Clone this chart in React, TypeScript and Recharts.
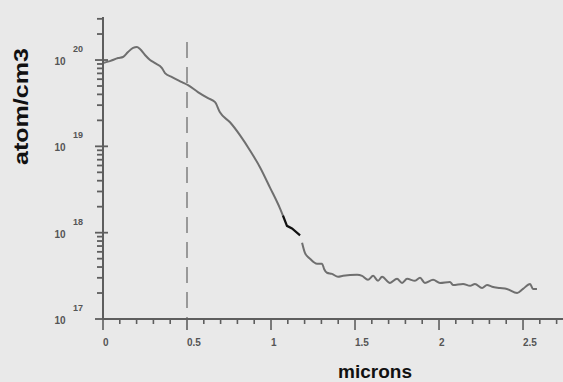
import React from "react";
import { LineChart, Line, XAxis, YAxis, ReferenceLine } from "recharts";

// depth (microns) and concentration (atom/cm3)
const depthMicrons = [0, 0.041, 0.09, 0.119, 0.149, 0.179, 0.202, 0.22, 0.25, 0.28, 0.31, 0.351, 0.369, 0.411, 0.47, 0.506, 0.565, 0.625, 0.667, 0.696, 0.756, 0.816, 0.875, 0.935, 0.994, 1.054, 1.071, 1.12, 1.185, 1.202, 1.232, 1.274, 1.304, 1.316, 1.333, 1.363, 1.399, 1.429, 1.512, 1.542, 1.577, 1.608, 1.637, 1.661, 1.708, 1.75, 1.78, 1.81, 1.857, 1.887, 1.916, 1.965, 2.006, 2.065, 2.083, 2.143, 2.185, 2.214, 2.256, 2.286, 2.316, 2.363, 2.404, 2.465, 2.5, 2.542, 2.559, 2.583];
const concentration: (number | null)[] = [9.23e19, 9.72e19, 1.054e20, 1.084e20, 1.239e20, 1.38e20, 1.416e20, 1.343e20, 1.143e20, 1.0e20, 9.2e19, 8.07e19, 7.06e19, 6.34e19, 5.55e19, 5.12e19, 4.25e19, 3.61e19, 3.25e19, 2.48e19, 1.9e19, 1.34e19, 8.97e18, 5.7e18, 3.33e18, 1.9e18, 1.58e18, null, 7.66e17, 5.85e17, 4.99e17, 4.37e17, 4.37e17, 3.8e17, 3.43e17, 3.33e17, 3.08e17, 3.16e17, 3.25e17, 3.16e17, 2.84e17, 3.16e17, 2.77e17, 3.08e17, 2.62e17, 2.92e17, 2.62e17, 2.92e17, 2.77e17, 3.0e17, 2.62e17, 2.84e17, 2.62e17, 2.69e17, 2.48e17, 2.55e17, 2.42e17, 2.55e17, 2.29e17, 2.48e17, 2.36e17, 2.29e17, 2.23e17, 2.0e17, 2.23e17, 2.55e17, 2.23e17, 2.23e17];

// dark pen mark over the gap in the curve
const markDepth = [1.071, 1.095, 1.125, 1.173];
const markConc = [1.58e18, 1.2e18, 1.12e18, 9.3e17];

const xMajorTicks = [0, 0.5, 1, 1.5, 2, 2.5];
const xTickLabels = ["0", "0.5", "1", "1.5", "2", "2.5"];
const xMinorTicks = [0.1, 0.2, 0.3, 0.4, 0.6, 0.7, 0.8, 0.9, 1.1, 1.2, 1.3, 1.4, 1.6, 1.7, 1.8, 1.9, 2.1, 2.2, 2.3, 2.4, 2.6, 2.7];
const yDecades = [1e17, 1e18, 1e19, 1e20];
const yExponents = ["17", "18", "19", "20"];
const yMinorMultipliers = [2, 3, 4, 5, 6, 7, 8, 9];
const dashedDepth = 0.5;

const yTop = 3.15e20;
const yMinorTicks = yDecades
  .flatMap((d) => yMinorMultipliers.map((m) => m * d))
  .filter((v) => v < yTop);

const mainData = depthMicrons.map((x, i) => ({ x, y: concentration[i] }));
const markData = markDepth.map((x, i) => ({ x, y: markConc[i] }));

const axisColor = "#5e5e5e";
const tickFont = "'Liberation Sans', Arial, sans-serif";

const XTick = (props: any) => {
  const { x, y, payload } = props;
  const v = payload.value;
  const mi = xMajorTicks.findIndex((t) => Math.abs(t - v) < 1e-9);
  const major = mi >= 0;
  return (
    <g>
      <line x1={x} x2={x} y1={y} y2={y + (major ? 11 : 5)} stroke={axisColor} strokeWidth={1.6} />
      {major && (
        <text x={x} y={y + 27} textAnchor="start" fontSize={10} fontWeight="bold" fill="#555" fontFamily={tickFont}>
          {xTickLabels[mi]}
        </text>
      )}
    </g>
  );
};

const YTick = (props: any) => {
  const { x, y, payload } = props;
  const v = payload.value;
  const mi = yDecades.findIndex((d) => Math.abs(Math.log10(d) - Math.log10(v)) < 1e-6);
  const major = mi >= 0;
  return (
    <g>
      <line x1={x - (major ? 8 : 6)} x2={x + (major ? 5 : 0)} y1={y} y2={y} stroke={axisColor} strokeWidth={1.8} />
      {major && (
        <g fontFamily={tickFont} fontWeight="bold" fill="#555" fontSize={10}>
          <text x={60} y={y + 5} textAnchor="middle">10</text>
          <text x={78} y={y - 8} textAnchor="middle" fontSize={9}>{yExponents[mi]}</text>
        </g>
      )}
    </g>
  );
};

export default function App() {
  return (
    <div
      style={{
        position: "absolute",
        left: 0,
        top: 0,
        width: 563,
        height: 382,
        background: "#e9e9e9",
        overflow: "hidden",
      }}
    >
      <LineChart width={563} height={382} data={mainData} margin={{ top: 17, right: 0, bottom: 0, left: 0 }}>
        <XAxis
          dataKey="x"
          type="number"
          domain={[0, 2.738]}
          allowDataOverflow
          ticks={[...xMajorTicks, ...xMinorTicks].sort((a, b) => a - b)}
          interval={0}
          tick={<XTick />}
          tickLine={false}
          tickSize={0}
          tickMargin={0}
          height={63}
          axisLine={{ stroke: axisColor, strokeWidth: 2 }}
        />
        <YAxis
          type="number"
          scale="log"
          domain={[1e17, yTop]}
          allowDataOverflow
          ticks={[...yDecades, ...yMinorTicks].sort((a, b) => a - b)}
          interval={0}
          tick={<YTick />}
          tickLine={false}
          tickSize={0}
          tickMargin={0}
          width={103}
          axisLine={{ stroke: axisColor, strokeWidth: 2 }}
        />
        <ReferenceLine
          segment={[
            { x: dashedDepth, y: 1.62e20 },
            { x: dashedDepth, y: 1e17 },
          ]}
          stroke="#858585"
          strokeWidth={1.6}
          strokeDasharray="16 9"
        />
        <Line
          dataKey="y"
          type="monotone"
          stroke="#6f6f6f"
          strokeWidth={2}
          dot={false}
          activeDot={false}
          connectNulls={false}
          isAnimationActive={false}
        />
        <Line
          data={markData}
          dataKey="y"
          type="linear"
          stroke="#111"
          strokeWidth={2.2}
          dot={false}
          activeDot={false}
          isAnimationActive={false}
        />
      </LineChart>
      <svg
        width={563}
        height={382}
        style={{ position: "absolute", left: 0, top: 0, pointerEvents: "none" }}
      >
        <text
          transform="translate(28,106.5) rotate(-90)"
          textAnchor="middle"
          fontSize={20}
          fontWeight="bold"
          fill="#111"
          fontFamily={tickFont}
          textLength={117}
          lengthAdjust="spacingAndGlyphs"
        >
          atom/cm3
        </text>
        <text
          x={375}
          y={378}
          textAnchor="middle"
          fontSize={19}
          fontWeight="bold"
          fill="#111"
          fontFamily={tickFont}
        >
          microns
        </text>
      </svg>
    </div>
  );
}
